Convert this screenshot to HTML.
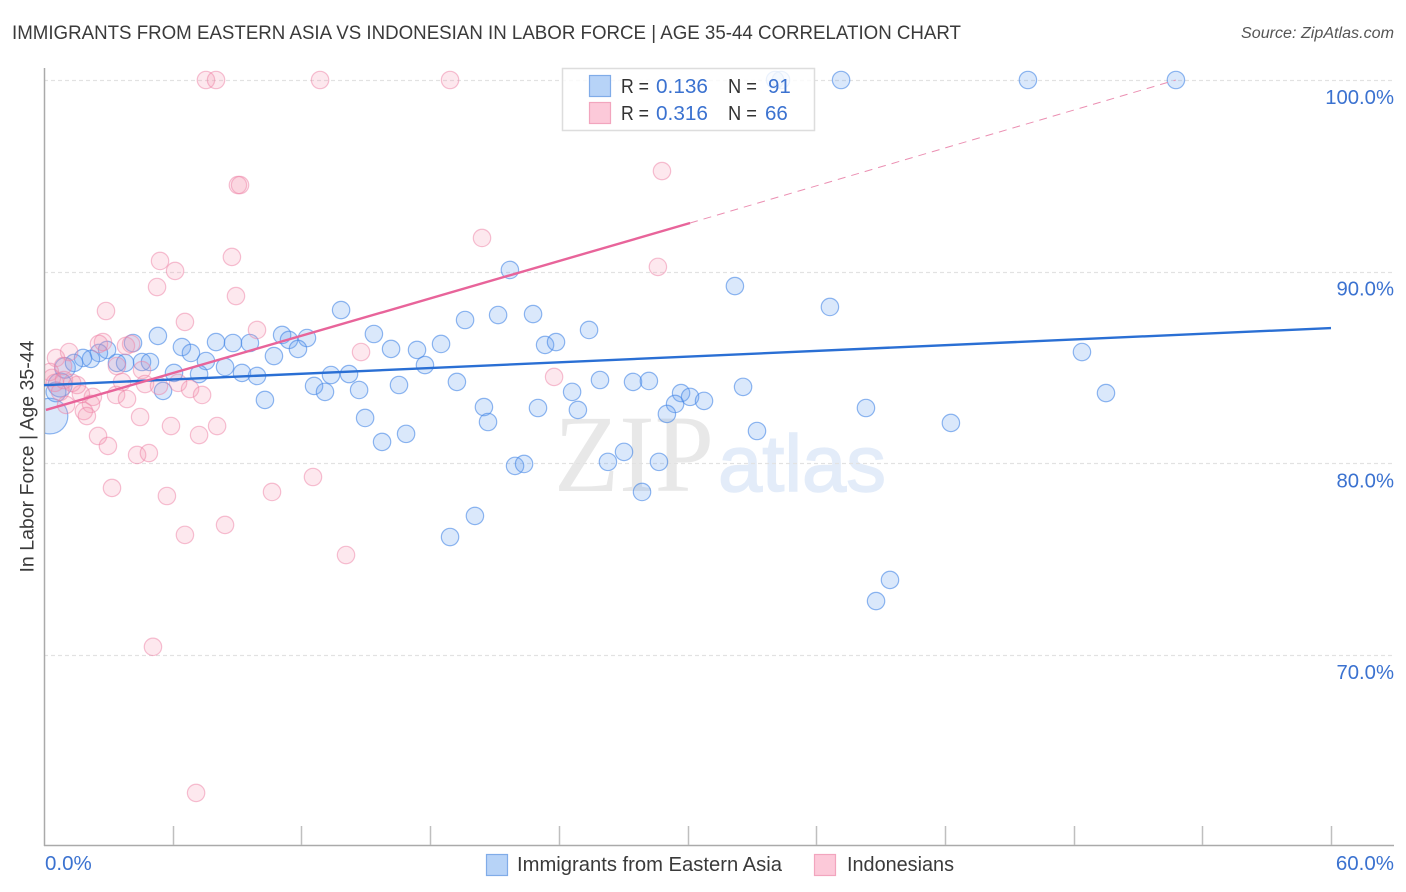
<!DOCTYPE html>
<html lang="en">
<head>
<meta charset="utf-8">
<title>Immigrants from Eastern Asia vs Indonesian in Labor Force correlation chart</title>
<style>
html,body{margin:0;padding:0;background:#fff;}
svg{display:block;font-family:"Liberation Sans",sans-serif;}
</style>
</head>
<body>
<svg id="chart" xmlns="http://www.w3.org/2000/svg" width="1406" height="892" viewBox="0 0 1406 892">
  <defs><clipPath id="plot-clip"><rect x="45" y="60" width="1349" height="785"/></clipPath></defs>
  <rect x="0" y="0" width="1406" height="892" fill="#ffffff"/>
  <text x="12" y="39" font-size="19.5" fill="#3a3a3a" textLength="949" lengthAdjust="spacingAndGlyphs">IMMIGRANTS FROM EASTERN ASIA VS INDONESIAN IN LABOR FORCE | AGE 35-44 CORRELATION CHART</text>
  <text x="1241" y="38" font-size="15.5" font-style="italic" fill="#555555" textLength="153" lengthAdjust="spacingAndGlyphs">Source: ZipAtlas.com</text>
  <g>
    <text x="554" y="491" font-family="'Liberation Serif',serif" font-size="110" fill="#e8e8e8" textLength="160" lengthAdjust="spacingAndGlyphs">ZIP</text>
    <text x="718" y="491" font-size="80" fill="#e3ecf9" stroke="#e3ecf9" stroke-width="1.5" textLength="168" lengthAdjust="spacingAndGlyphs">atlas</text>
  </g>
  <g id="grid"></g>
  <g id="axes">
    <line x1="44.5" y1="68" x2="44.5" y2="846" stroke="#aaaaaa" stroke-width="1.5"/>
    <line x1="44" y1="845.5" x2="1394" y2="845.5" stroke="#aaaaaa" stroke-width="1.5"/>
  </g>
  <g id="points-blue" clip-path="url(#plot-clip)"></g>
  <g id="points-pink" clip-path="url(#plot-clip)"></g>
  <g id="trends"></g>
  <g id="labels"></g>
  <text x="0" y="0" transform="translate(33.5,456.5) rotate(-90)" font-size="19" fill="#3a3a3a" text-anchor="middle" textLength="232" lengthAdjust="spacingAndGlyphs">In Labor Force | Age 35-44</text>

  <g>
    <rect x="562.5" y="68.5" width="252" height="62" fill="#ffffff" fill-opacity="0.82" stroke="#dddddd" stroke-width="1.5"/>
    <rect x="589.5" y="75.5" width="21" height="21" fill="#b7d3f7" stroke="#80ace8" stroke-width="1.2"/>
    <rect x="589.5" y="102.5" width="21" height="21" fill="#fcc9d9" stroke="#f2a5be" stroke-width="1.2"/>
    <g font-size="20.5">
      <text x="621" y="93" fill="#333333" textLength="28" lengthAdjust="spacingAndGlyphs">R =</text>
      <text x="656" y="93" fill="#3b72d0" textLength="52" lengthAdjust="spacingAndGlyphs">0.136</text>
      <text x="728" y="93" fill="#333333" textLength="29" lengthAdjust="spacingAndGlyphs">N =</text>
      <text x="768" y="93" fill="#3b72d0">91</text>
      <text x="621" y="120" fill="#333333" textLength="28" lengthAdjust="spacingAndGlyphs">R =</text>
      <text x="656" y="120" fill="#3b72d0" textLength="52" lengthAdjust="spacingAndGlyphs">0.316</text>
      <text x="728" y="120" fill="#333333" textLength="29" lengthAdjust="spacingAndGlyphs">N =</text>
      <text x="765" y="120" fill="#3b72d0">66</text>
    </g>
  </g>

  <g>
    <g>
      <rect x="486.5" y="854.5" width="21" height="21" fill="#b7d3f7" stroke="#80ace8" stroke-width="1.2"/>
      <text x="517" y="871" font-size="20" fill="#3a3a3a" textLength="265" lengthAdjust="spacingAndGlyphs">Immigrants from Eastern Asia</text>
    </g>
    <g>
      <rect x="814.5" y="854.5" width="21" height="21" fill="#fcc9d9" stroke="#f2a5be" stroke-width="1.2"/>
      <text x="847" y="871" font-size="20" fill="#3a3a3a" textLength="107" lengthAdjust="spacingAndGlyphs">Indonesians</text>
    </g>
  </g>
</svg>
<script>
const yTickValues = [100, 90, 80, 70];
const yTickLabels = ["100.0%", "90.0%", "80.0%", "70.0%"];
const xTickValues = [6, 12, 18, 24, 30, 36, 42, 48, 54, 60];
const xEdgeValues = [0, 60];
const xEdgeLabels = ["0.0%", "60.0%"];

const blueX = [34.08,34.36,37.16,45.87,52.77,32.21,36.64,21.72,13.85,22.80,21.17,19.63,25.41,15.38,5.31,4.15,8.02,8.81,9.60,11.10,11.42,12.26,11.84,6.43,6.85,7.55,10.72,16.18,17.39,18.51,17.76,23.36,23.87,48.39,2.94,2.56,2.19,1.82,1.40,3.40,3.78,4.57,4.94,8.44,9.23,9.93,7.23,6.06,5.55,13.38,14.22,12.59,13.10,14.69,16.55,19.25,10.30,24.62,25.92,27.46,28.20,29.70,30.12,30.77,32.59,29.42,29.04,24.89,23.03,20.51,20.70,33.24,38.32,42.28,49.51,14.97,15.76,16.88,27.04,26.29,28.67,21.96,22.38,27.88,20.09,18.93,39.44,38.79];
const blueY = [100,100,100,100,100,89.25,88.16,90.09,88.00,87.79,87.74,87.48,86.96,86.75,86.65,86.28,86.33,86.28,86.28,86.70,86.44,86.54,85.97,86.07,85.76,85.34,85.60,85.97,85.92,86.23,85.13,86.18,86.33,85.81,85.92,85.76,85.45,85.50,85.24,85.24,85.24,85.29,85.29,85.03,84.72,84.56,84.66,84.72,83.78,84.61,84.66,84.04,83.73,83.83,84.09,84.25,83.31,83.73,84.35,84.25,84.30,83.67,83.47,83.26,83.99,83.10,82.58,82.79,82.89,82.94,82.16,81.69,82.89,82.11,83.67,82.37,81.12,81.54,80.60,80.08,80.08,79.87,79.97,78.51,77.26,76.16,73.92,72.82];
const blueClumpX = [0.28,0.75,0.56,0.98];
const blueClumpY = [82.47,84.09,83.73,84.98];
const blueClumpWeight = [4.2,1.9,1.3,1.4];

const pinkX = [7.55,8.02,12.87,18.93,9.04,9.14,28.81,20.42,28.62,8.76,5.41,6.11,5.27,8.95,2.89,6.57,9.93,14.78,23.78,2.75,2.56,3.82,4.06,1.17,0.56,3.40,4.57,3.64,4.71,5.36,6.25,6.81,7.37,3.36,3.87,2.28,1.72,1.54,1.03,2.19,1.86,2.00,4.48,5.92,7.23,8.07,2.52,2.98,4.34,4.89,3.17,5.73,10.63,12.54,8.44,6.57,14.08,5.08,7.09,0.28,0.37,0.51,0.75,0.93,1.31,0.89];
const pinkY = [100,100,100,100,94.52,94.52,95.25,91.76,90.25,90.77,90.56,90.04,89.20,88.73,87.95,87.38,86.96,85.81,84.51,86.33,86.23,86.13,86.23,85.81,85.50,85.08,84.87,84.25,84.14,84.04,84.20,83.88,83.57,83.57,83.36,83.47,83.62,84.09,83.05,83.10,82.73,82.47,82.42,81.95,81.48,81.95,81.43,80.91,80.44,80.54,78.72,78.30,78.51,79.29,76.79,76.27,75.22,70.43,62.81,84.77,84.46,84.20,83.73,84.35,84.20,85.08];

const blueTrendX = [0, 60];
const blueTrendY = [84.08, 87.06];
const pinkTrendX = [0.09, 30.12];
const pinkTrendY = [82.79, 92.54];
const pinkProjectionX = [30.12, 52.77];
const pinkProjectionY = [92.54, 100];

const SVG_NS = "http://www.w3.org/2000/svg";
function xScale(v) { return 44 + v * 21.45; }
function yScale(v) { return 80 + (100 - v) * 19.17; }
function radius(w) { return 8.7 * Math.sqrt(w); }
function make(tag, attrs, parent) {
  const el = document.createElementNS(SVG_NS, tag);
  for (const k in attrs) el.setAttribute(k, attrs[k]);
  parent.appendChild(el);
  return el;
}

const gridLayer = document.getElementById("grid");
const axesLayer = document.getElementById("axes");
const labelLayer = document.getElementById("labels");
const blueLayer = document.getElementById("points-blue");
const pinkLayer = document.getElementById("points-pink");
const trendLayer = document.getElementById("trends");

yTickValues.forEach(function (v, i) {
  const y = Math.round(yScale(v)) + 0.5;
  const gl = make("line", {x1: 44, y1: y, x2: 1394, y2: y, stroke: "#e2e2e2", "stroke-width": 1.2, "stroke-dasharray": "4 3"}, gridLayer);
  
  
  const t = make("text", {x: 1394, y: yScale(v) + 24, "font-size": 20.3, fill: "#3b72d0", "text-anchor": "end"}, labelLayer);
  t.textContent = yTickLabels[i];
  
  
});

xTickValues.forEach(function (v) {
  const x = Math.round(xScale(v)) + 0.5;
  const tk = make("line", {x1: x, y1: 826, x2: x, y2: 845, stroke: "#bfbfbf", "stroke-width": 1.5}, axesLayer);
  
  
});

xEdgeValues.forEach(function (v, i) {
  const anchorEnd = i === 1;
  const t = make("text", {x: anchorEnd ? 1394 : xScale(v) + 1, y: 870, "font-size": 20.5, fill: "#3b72d0", "text-anchor": anchorEnd ? "end" : "start"}, labelLayer);
  t.textContent = xEdgeLabels[i];
  
  
});

function drawPoint(layer, x, y, w, fill, stroke) {
  const c = make("circle", {cx: xScale(x), cy: yScale(y), r: radius(w), fill: fill, stroke: stroke, "stroke-width": 1.2}, layer);
  return c;
}

blueClumpX.forEach(function (x, i) {
  const c = drawPoint(blueLayer, x, blueClumpY[i], blueClumpWeight[i], "rgba(100,160,240,0.24)", "rgba(70,135,230,0.6)");
  
  
});
blueX.forEach(function (x, i) {
  const c = drawPoint(blueLayer, x, blueY[i], 1, "rgba(100,160,240,0.24)", "rgba(70,135,230,0.6)");
  
  
});
pinkX.forEach(function (x, i) {
  const c = drawPoint(pinkLayer, x, pinkY[i], 1, "rgba(245,150,178,0.22)", "rgba(238,130,165,0.5)");
  
  
});

const blueTrend = make("line", {x1: xScale(blueTrendX[0]), y1: yScale(blueTrendY[0]), x2: xScale(blueTrendX[1]), y2: yScale(blueTrendY[1]), stroke: "#2a6fd4", "stroke-width": 2.4}, trendLayer);


const pinkTrend = make("line", {x1: xScale(pinkTrendX[0]), y1: yScale(pinkTrendY[0]), x2: xScale(pinkTrendX[1]), y2: yScale(pinkTrendY[1]), stroke: "#e8649a", "stroke-width": 2.4}, trendLayer);


const pinkProjection = make("line", {x1: xScale(pinkProjectionX[0]), y1: yScale(pinkProjectionY[0]), x2: xScale(pinkProjectionX[1]), y2: yScale(pinkProjectionY[1]), stroke: "#eb8fb2", "stroke-width": 1, "stroke-dasharray": "8 6"}, trendLayer);


</script>
</body>
</html>
